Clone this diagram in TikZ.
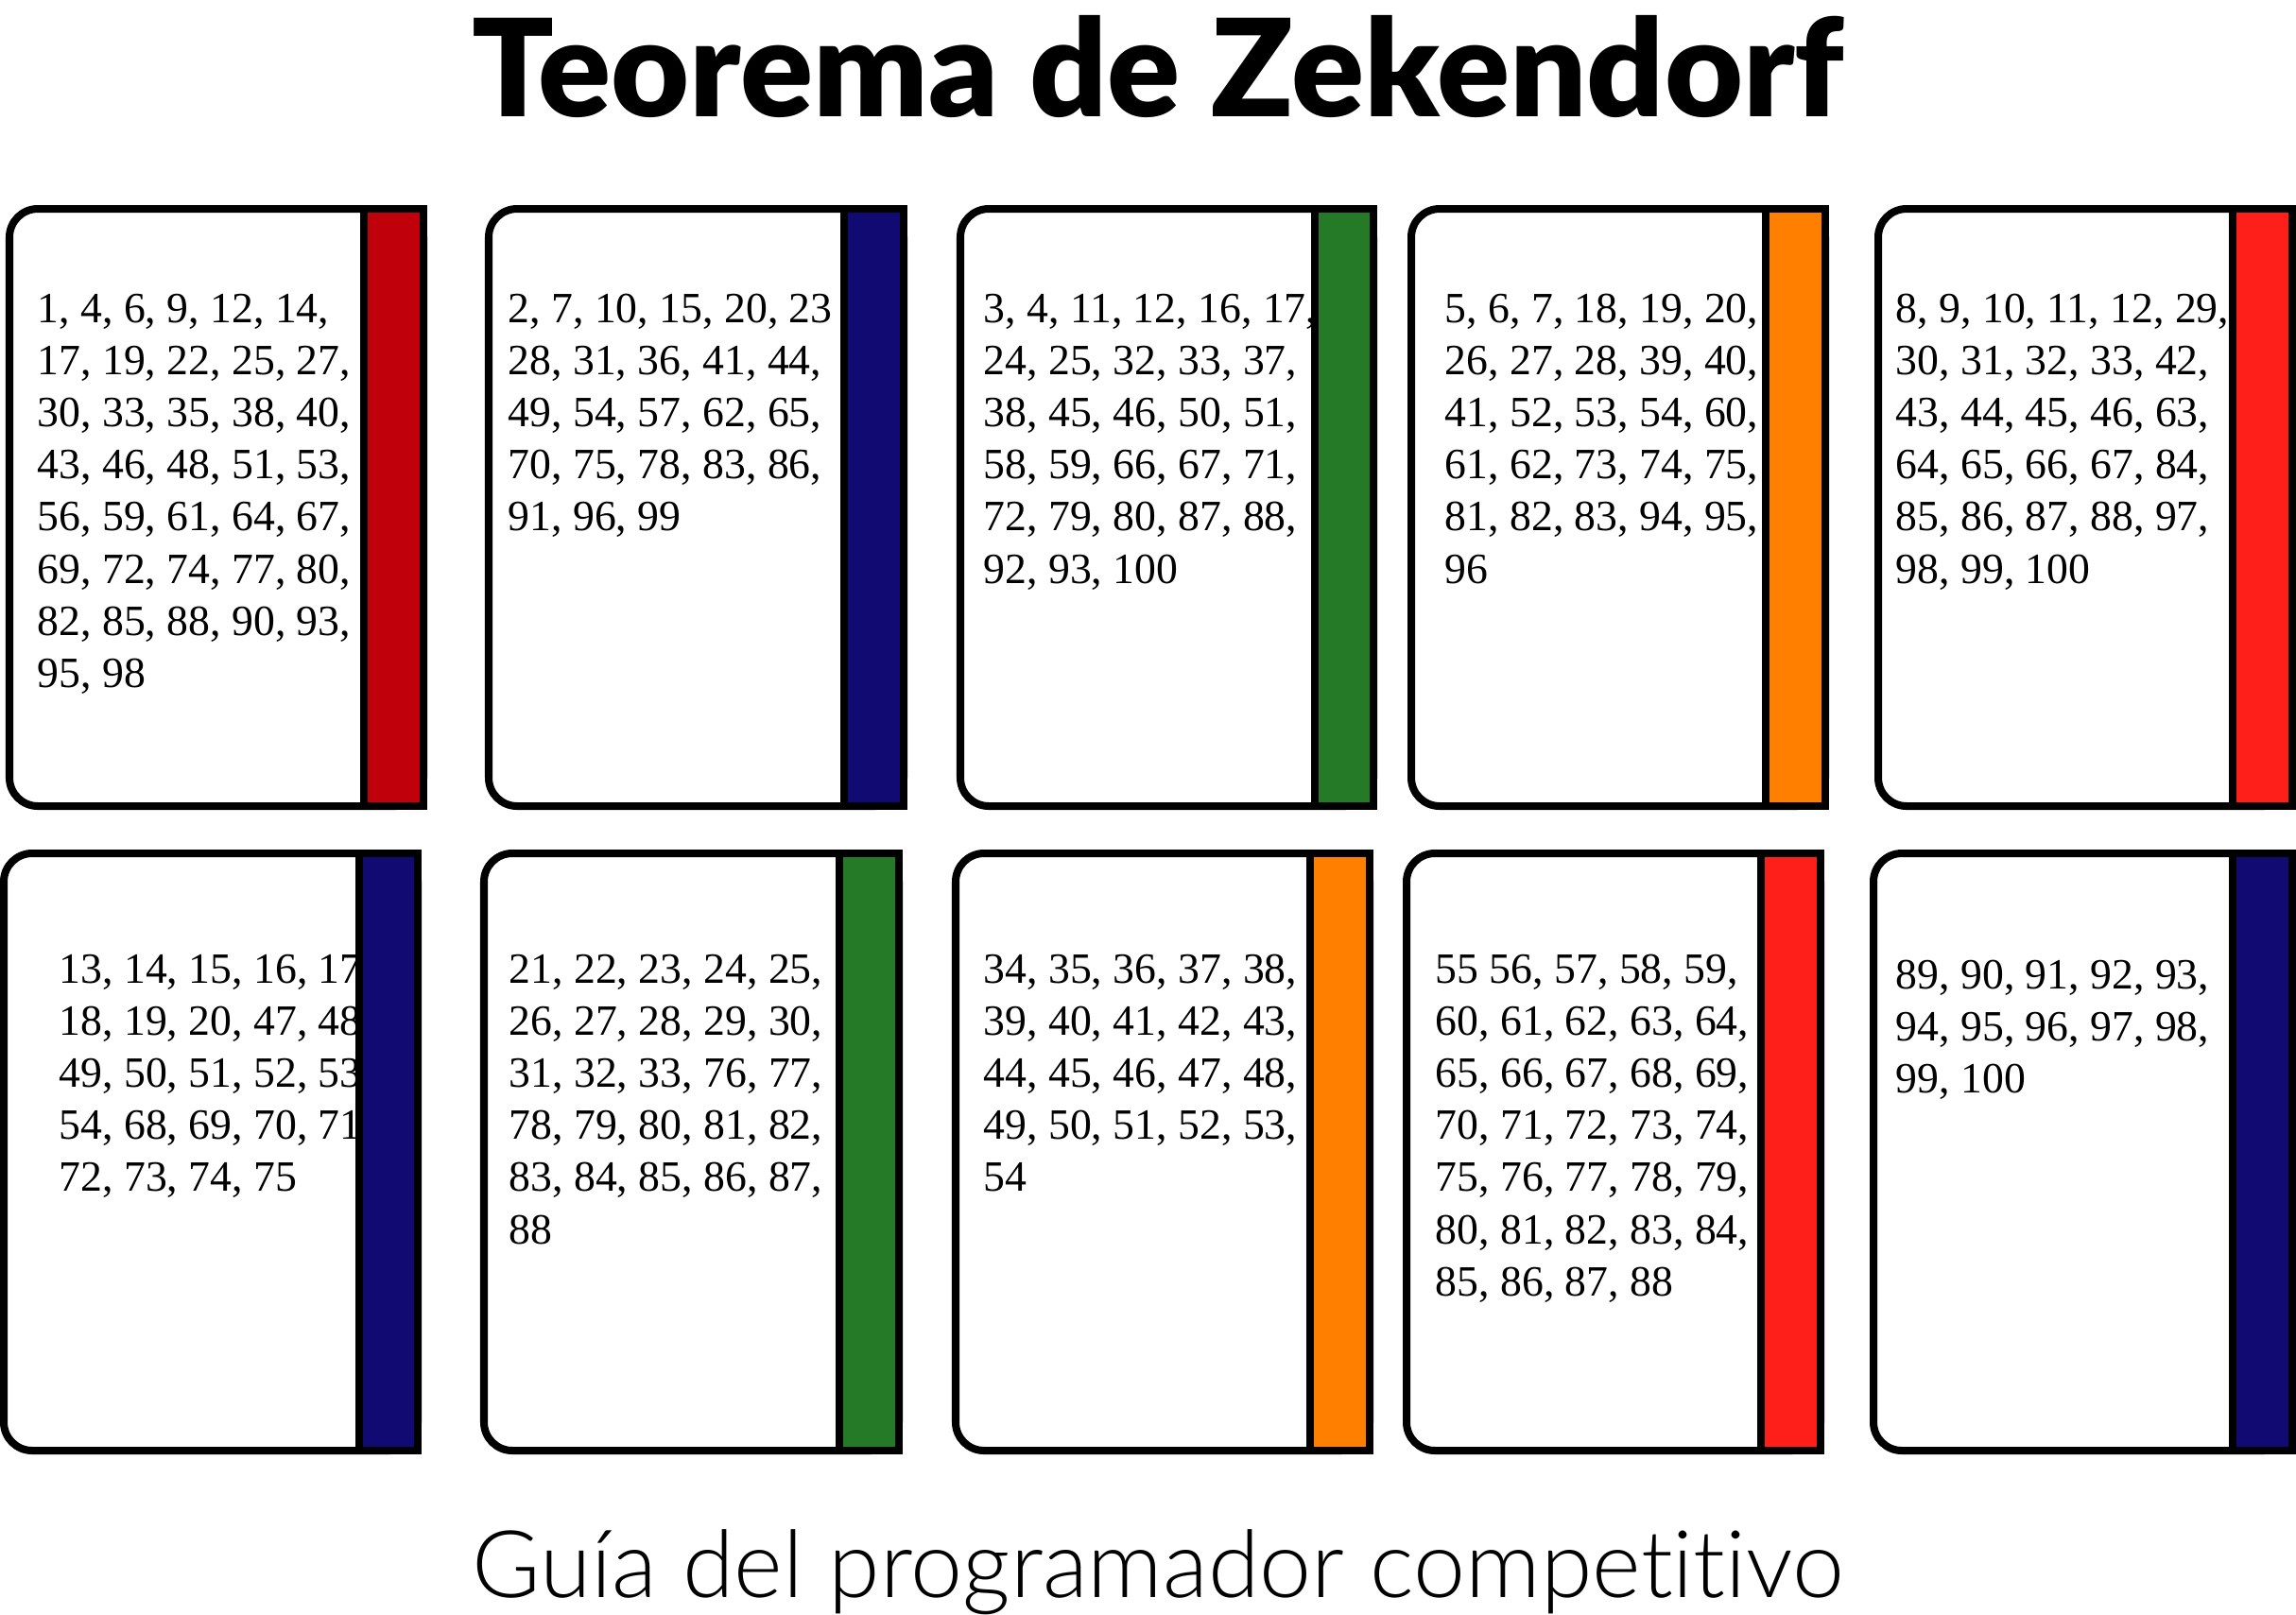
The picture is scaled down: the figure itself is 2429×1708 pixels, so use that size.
\documentclass[tikz,border=0pt]{standalone}
\usepackage{fontspec}
\setmainfont{Liberation Serif}
\newfontfamily\titlefont{Lato Black}
\newfontfamily\subfont[Ligatures=NoCommon]{Lato Light}
\definecolor{cdarkred}{HTML}{C0000B}
\definecolor{cnavy}{HTML}{120A73}
\definecolor{cgreen}{HTML}{257A27}
\definecolor{corange}{HTML}{FF8000}
\definecolor{cred}{HTML}{FF1F1A}
\newcommand\zl[1]{\hbox{#1}}
% #1 name, #2 left, #3 spine, #4 right, #5 top, #6 colour, #7 text x, #8 text baseline, #9 lines
\newcommand\zcard[9]{%
  \draw[bodyline, fill=white, rounded corners=0.3cm] (#2,#5) rectangle (#4,{#5+632});
  \node[numtext] (#1) at (#7,#8) {\vtop{#9}};
  \draw[bodyline, fill=#6] (#3,#5) rectangle (#4,{#5+632});
}
\tikzset{
  bodyline/.style={draw=black, line width=2.28pt},
  numtext/.style={anchor=base west, inner sep=0pt, font=\fontsize{13pt}{15.7pt}\selectfont},
  titletext/.style={anchor=base, inner sep=0pt, font=\titlefont\fontsize{40.7pt}{41pt}\selectfont},
  subtext/.style={anchor=base, inner sep=0pt, font=\subfont\fontsize{28.1pt}{29pt}\selectfont},
}
\begin{document}
\begin{tikzpicture}[x=0.01cm, y=-0.01cm]
\path[use as bounding box, fill=white] (0,0) rectangle (2429,1708);

\node[titletext] (title) at (1225,123) {Teorema de Zekendorf};

% top row
\zcard{c1}{10}{385}{448}{221}{cdarkred}{39}{341}{%
\zl{1, 4, 6, 9, 12, 14,}\zl{17, 19, 22, 25, 27,}\zl{30, 33, 35, 38, 40,}\zl{43, 46, 48, 51, 53,}%
\zl{56, 59, 61, 64, 67,}\zl{69, 72, 74, 77, 80,}\zl{82, 85, 88, 90, 93,}\zl{95, 98}}
\zcard{c2}{517}{893}{956}{221}{cnavy}{537}{341}{%
\zl{2, 7, 10, 15, 20, 23}\zl{28, 31, 36, 41, 44,}\zl{49, 54, 57, 62, 65,}\zl{70, 75, 78, 83, 86,}%
\zl{91, 96, 99}}
\zcard{c3}{1016}{1391}{1453}{221}{cgreen}{1040}{341}{%
\zl{3, 4, 11, 12, 16, 17,}\zl{24, 25, 32, 33, 37,}\zl{38, 45, 46, 50, 51,}\zl{58, 59, 66, 67, 71,}%
\zl{72, 79, 80, 87, 88,}\zl{92, 93, 100}}
\zcard{c4}{1493}{1868}{1931}{221}{corange}{1528}{341}{%
\zl{5, 6, 7, 18, 19, 20,}\zl{26, 27, 28, 39, 40,}\zl{41, 52, 53, 54, 60,}\zl{61, 62, 73, 74, 75,}%
\zl{81, 82, 83, 94, 95,}\zl{96}}
\zcard{c5}{1987}{2362}{2425}{221}{cred}{2005}{341}{%
\zl{8, 9, 10, 11, 12, 29,}\zl{30, 31, 32, 33, 42,}\zl{43, 44, 45, 46, 63,}\zl{64, 65, 66, 67, 84,}%
\zl{85, 86, 87, 88, 97,}\zl{98, 99, 100}}

% bottom row
\zcard{c6}{4}{380}{442}{903}{cnavy}{62}{1040}{%
\zl{13, 14, 15, 16, 17,}\zl{18, 19, 20, 47, 48,}\zl{49, 50, 51, 52, 53,}\zl{54, 68, 69, 70, 71,}%
\zl{72, 73, 74, 75}}
\zcard{c7}{512}{888}{951}{903}{cgreen}{538}{1040}{%
\zl{21, 22, 23, 24, 25,}\zl{26, 27, 28, 29, 30,}\zl{31, 32, 33, 76, 77,}\zl{78, 79, 80, 81, 82,}%
\zl{83, 84, 85, 86, 87,}\zl{88}}
\zcard{c8}{1011}{1386}{1449}{903}{corange}{1040}{1040}{%
\zl{34, 35, 36, 37, 38,}\zl{39, 40, 41, 42, 43,}\zl{44, 45, 46, 47, 48,}\zl{49, 50, 51, 52, 53,}%
\zl{54}}
\zcard{c9}{1488}{1863}{1926}{903}{cred}{1518}{1040}{%
\zl{55 56, 57, 58, 59,}\zl{60, 61, 62, 63, 64,}\zl{65, 66, 67, 68, 69,}\zl{70, 71, 72, 73, 74,}%
\zl{75, 76, 77, 78, 79,}\zl{80, 81, 82, 83, 84,}\zl{85, 86, 87, 88}}
\zcard{c10}{1982}{2362}{2425}{903}{cnavy}{2005}{1046}{%
\zl{89, 90, 91, 92, 93,}\zl{94, 95, 96, 97, 98,}\zl{99, 100}}

\node[subtext] (subtitle) at (1225,1690) {Guía del programador competitivo};
\end{tikzpicture}
\end{document}
